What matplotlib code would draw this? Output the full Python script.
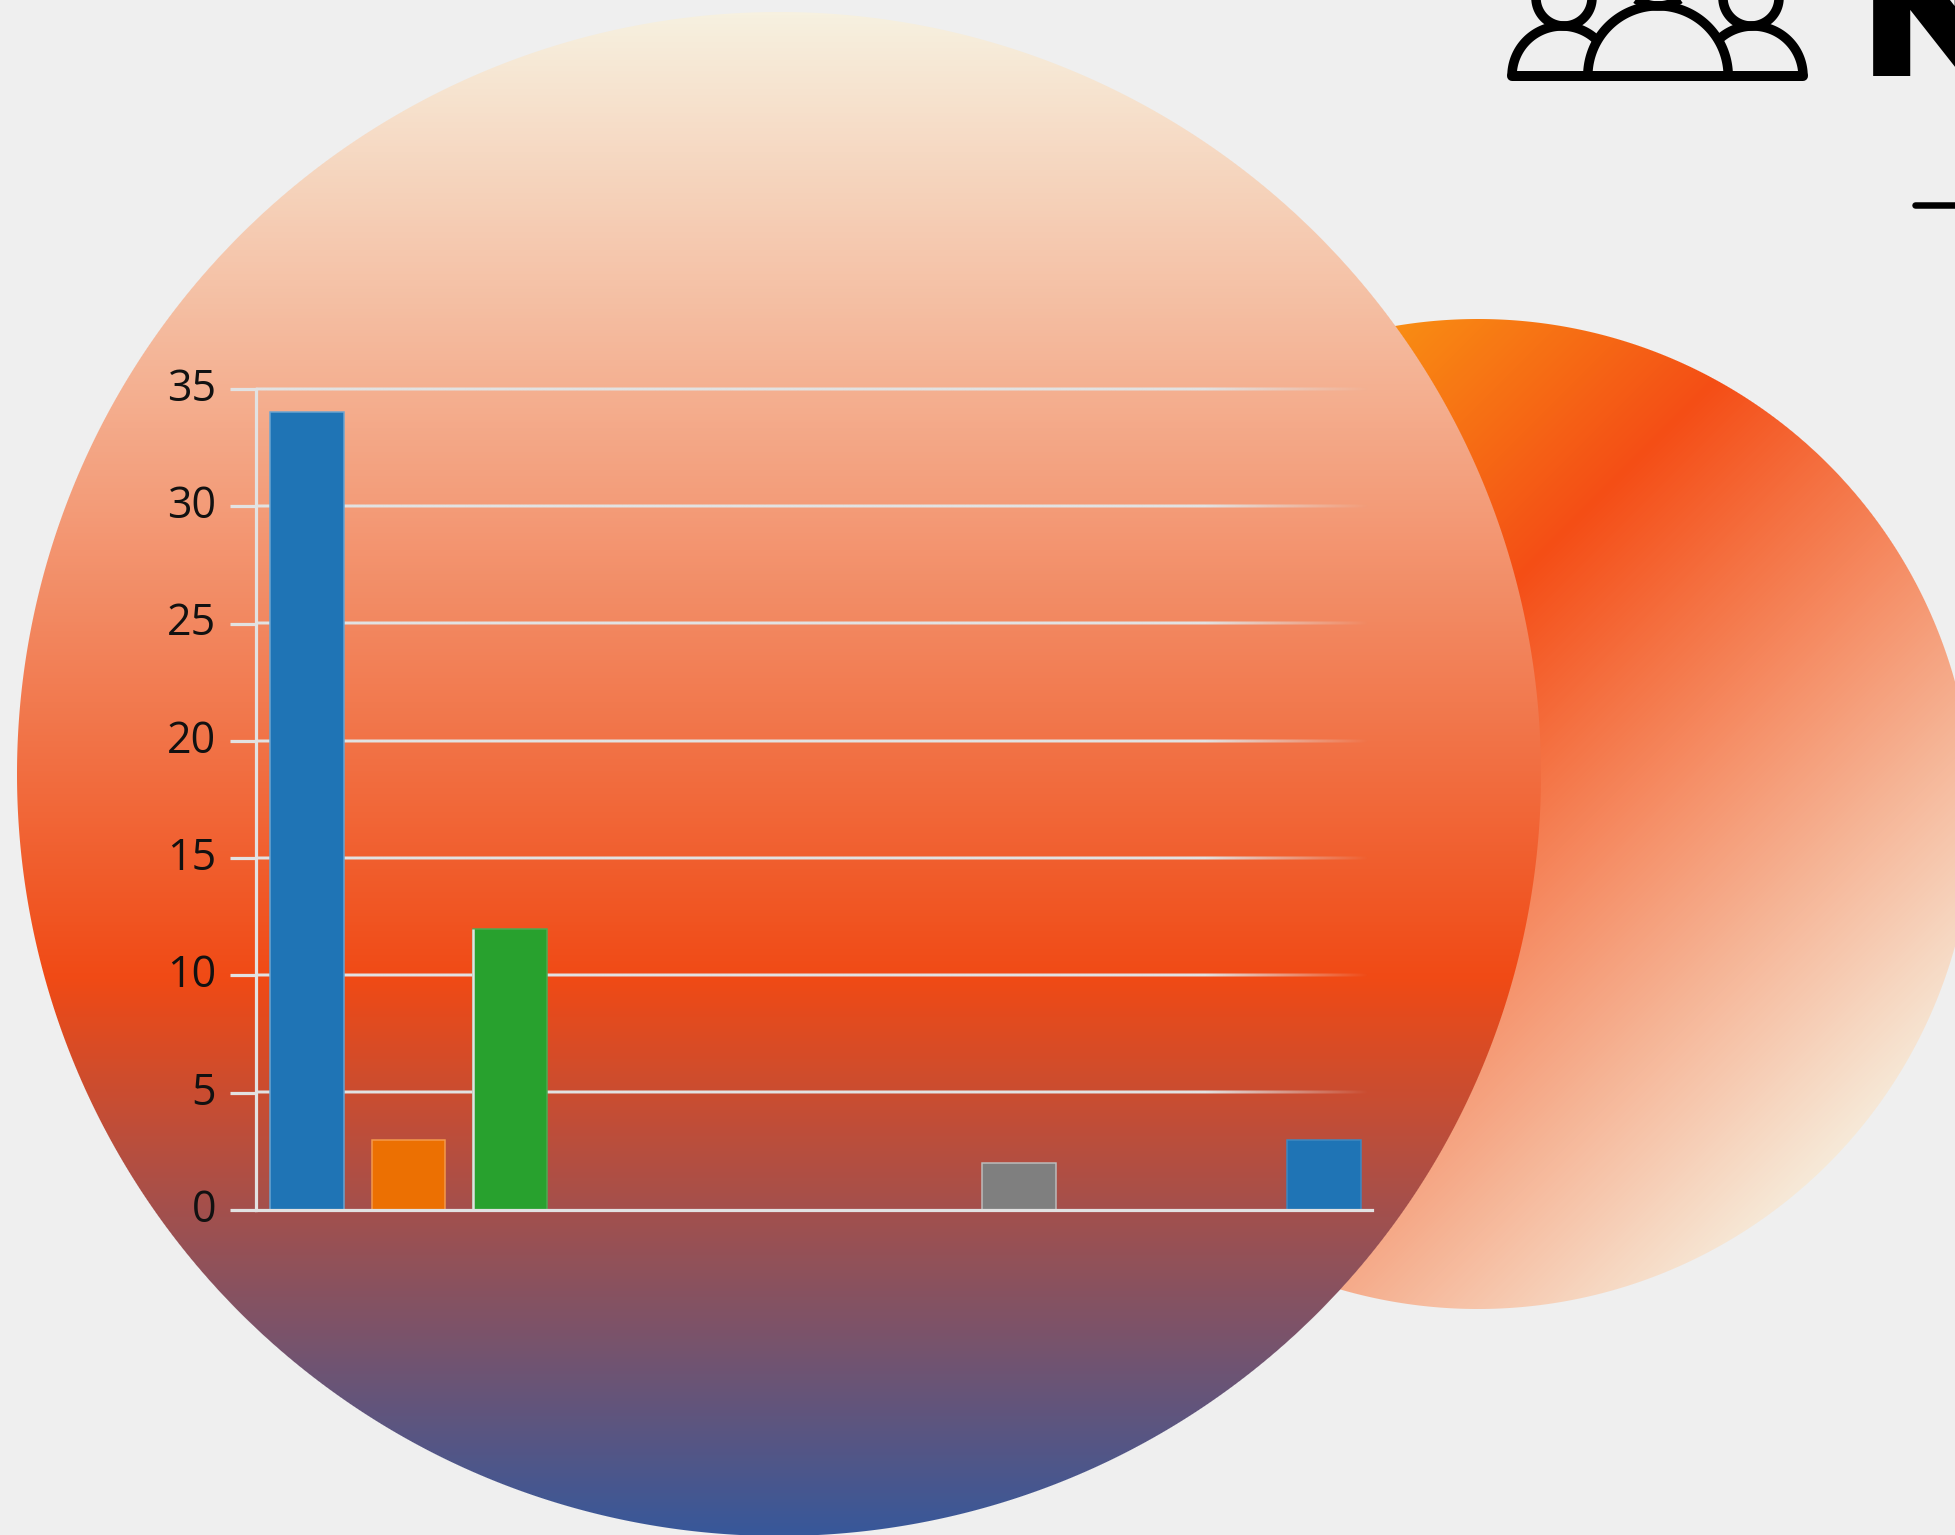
"""Bar chart on top of two gradient circles, with the cropped people icon."""

import matplotlib.patheffects as path_effects
import matplotlib.pyplot as plt
import numpy as np
from matplotlib.colors import LinearSegmentedColormap, to_rgb
from matplotlib.transforms import ScaledTranslation

WIDTH, HEIGHT = 1956, 1535

categories = list(range(11))
values = [34, 3, 12, 0, 0, 0, 0, 2, 0, 0, 3]
bar_colors = ["#1f74b5", "#ec7002", "#28a12e", "#d62728", "#9467bd", "#8c564b",
              "#e377c2", "#7f7f7f", "#bcbd22", "#17becf", "#1f74b5"]
edge_colors = ["#6aa5d2", "#f59a4c", "#4dab52", "#d62728", "#9467bd", "#8c564b",
               "#e377c2", "#bdbdbd", "#bcbd22", "#17becf", "#3f88c0"]
y_ticks = [0, 5, 10, 15, 20, 25, 30, 35]

main_stops = [(0.0, "#f7f1e0"), (0.635, "#f04a15"), (1.0, "#38589a")]
back_stops = [(0.0, "#ffd210"), (0.402, "#f44e16"), (0.87, "#f7efdf"), (1.0, "#f7efdf")]


def px(size):
    """Convert a size in picture pixels to points."""
    return size * 72 / 100


def gradient_circle(ax, cx, cy, radius, stops, t_func):
    cmap = LinearSegmentedColormap.from_list("grad", stops, N=512)
    xx, yy = np.meshgrid(np.arange(WIDTH) + 0.5, np.arange(HEIGHT) + 0.5)
    rgba = cmap(np.clip(t_func(xx, yy), 0, 1))
    # soft edge, clip paths are not antialiased
    rgba[..., 3] = np.clip(radius - np.hypot(xx - cx, yy - cy) + 0.5, 0, 1)
    ax.imshow(rgba, extent=(0, WIDTH, HEIGHT, 0), interpolation="none", aspect="auto")


def arc(ax, cx, cy, radius, start, end, lw=9.5):
    angles = np.radians(np.linspace(start, end, 120))
    ax.plot(cx + radius * np.cos(angles), cy - radius * np.sin(angles),
            color="black", lw=px(lw), solid_capstyle="butt")


fig = plt.figure(figsize=(WIDTH / 100, HEIGHT / 100), dpi=100, facecolor="#efefef")

# backdrop in pixel coordinates
bg = fig.add_axes([0, 0, 1, 1])
bg.set_axis_off()

gradient_circle(bg, 1478, 814, 495, back_stops,
                lambda x, y: ((x - 983) + (y - 319)) / 1980)
gradient_circle(bg, 779, 774, 762, main_stops,
                lambda x, y: (y - 12) / 1523)

# people icon
arc(bg, 1658, 76, 70.2, 0, 180)
arc(bg, 1562, 76, 50, 44, 180)
arc(bg, 1753, 76, 50, 0, 136)
arc(bg, 1564, -2, 28, 0, 360)
arc(bg, 1751, -2, 28, 0, 360)
arc(bg, 1658, -32, 38, 0, 360)
bg.plot([1512, 1803], [76, 76], color="black", lw=px(10), solid_capstyle="round")

# the reference lettering is heavier than any installed face, so thicken it
heavy = path_effects.Stroke(linewidth=px(15), foreground="black", joinstyle="miter")
bg.text(1868, 68.5, "N", family=["Lato", "Roboto", "Liberation Sans"], weight=900,
        fontsize=120, color="black", ha="left", va="baseline", clip_on=True,
        path_effects=[heavy, path_effects.Normal()])
bg.plot([1915, 1960], [205, 205], color="black", lw=px(6.5), solid_capstyle="round")

bg.set_xlim(0, WIDTH)
bg.set_ylim(HEIGHT, 0)

# chart
left, right, top, bottom = 256, 1375, 389, 1210
ax = fig.add_axes([left / WIDTH, 1 - bottom / HEIGHT,
                   (right - left) / WIDTH, (bottom - top) / HEIGHT])
ax.patch.set_alpha(0)

line_color = "#e2e2e2"
line_width = 3.2
bar_width = 0.725

# gridlines fade out towards the right edge, drawn as thin soft images
ramp = np.clip((10.45 - np.linspace(-0.5, 10.5, 400)) / 1.6, 0, 1)
profile = np.array([0.0, 1.0, 1.0, 0.0])[:, None]
grid_rgba = np.zeros((4, 400, 4))
grid_rgba[..., :3] = to_rgb(line_color)
grid_rgba[..., 3] = profile * ramp
half_height = 0.5 * 5.5 * 35 / (bottom - top)
for y in y_ticks[1:]:
    ax.imshow(grid_rgba, extent=(-0.5, 10.5, y - half_height, y + half_height),
              aspect="auto", interpolation="bilinear", zorder=1, clip_on=False)

ax.bar(categories, values, width=bar_width, color=bar_colors,
       edgecolor=edge_colors, linewidth=px(1.5), zorder=2)
# lit left side of the green bar
ax.vlines(categories[2] - bar_width / 2 - 0.005, 0, values[2], color=line_color,
          lw=px(2.5), zorder=3)

ax.set_xlim(-0.5, 10.5)
ax.set_ylim(0, 35)
ax.set_xticks([])
ax.set_yticks(y_ticks)

ax.tick_params(axis="y", length=px(26), width=px(line_width), color=line_color, pad=px(14),
               labelsize=31, labelcolor="#111111")
for label in ax.get_yticklabels():
    label.set_family(["Open Sans", "Noto Sans", "DejaVu Sans"])
    label.set_transform(label.get_transform() + ScaledTranslation(0, 3.5 / 72, fig.dpi_scale_trans))

for side in ("top", "right"):
    ax.spines[side].set_visible(False)
for side in ("left", "bottom"):
    ax.spines[side].set_color(line_color)
    ax.spines[side].set_linewidth(px(line_width))
    ax.spines[side].set_zorder(4)
ax.spines["bottom"].set_bounds(-0.5, 10.47)

fig.savefig("out.png", dpi=100, facecolor=fig.get_facecolor())
